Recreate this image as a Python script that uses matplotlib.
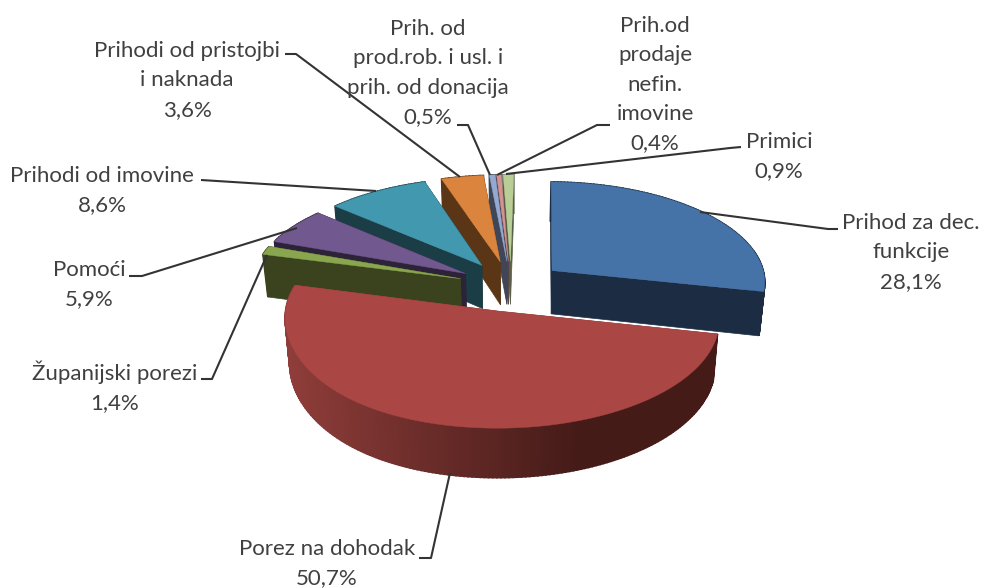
import numpy as np
import matplotlib
matplotlib.use("Agg")
import matplotlib.pyplot as plt
from matplotlib.colors import to_rgb

# Data
categories = ["Prihod za dec. funkcije", "Porez na dohodak", "Županijski porezi", "Pomoći",
              "Prihodi od imovine", "Prihodi od pristojbi i naknada",
              "Prih. od prod.rob. i usl. i prih. od donacija",
              "Prih.od prodaje nefin. imovine", "Primici"]
values = [28.1, 50.7, 1.4, 5.9, 8.6, 3.6, 0.5, 0.4, 0.9]
top_colors = ["#4572A7", "#AA4643", "#89A54E", "#71588F", "#4198AF",
              "#DB843D", "#93A9CF", "#D19392", "#B9CD96"]
wall_colors = ["#1B2C43", "#8F3D3A", "#3A431E", "#2D2339", "#1A3D46",
               "#5A3617", "#3E4657", "#5A4048", "#555F45"]
red_wall_dark = "#451B18"

# label lines, baselines of the first line, and where the text is centred
label_lines = [
    ["Prihod za dec.", "funkcije", "28,1%"],
    ["Porez na dohodak", "50,7%"],
    ["Županijski porezi", "1,4%"],
    ["Pomoći", "5,9%"],
    ["Prihodi od imovine", "8,6%"],
    ["Prihodi od pristojbi", "i naknada", "3,6%"],
    ["Prih. od", "prod.rob. i usl. i", "prih. od donacija", "0,5%"],
    ["Prih.od", "prodaje", "nefin.", "imovine", "0,4%"],
    ["Primici", "0,9%"],
]
label_x = [911, 327, 115, 89, 102, 187, 428, 655, 779]
label_y = [229, 555, 380, 276, 182, 57, 35, 32, 148]
leaders = [
    [(700, 212), (828, 229), (838, 229)],
    [(450, 473), (431, 558), (419, 558)],
    [(267, 255), (212, 379), (201, 379)],
    [(297, 228), (142, 276), (129, 276)],
    [(376, 191), (217, 181), (201, 180)],
    [(460, 177), (296, 54), (285, 54)],
    [(490, 175), (468, 125), (457, 125)],
    [(497, 175), (597, 125), (610, 125)],
    [(506, 174), (730, 148), (741, 147)],
]

# Projection settings
CX, CY = 511, 286
R = 214.5
K = 0.475
P = 0.10
H = 44
EXPLODE = 0.248
START = 1.0


def project(X, Y, z=0.0):
    s = 1 + P * Y
    d = 1 - 0.02 * z
    # front left of the original pie is a bit tighter than plain perspective
    pinch = 1 - 0.035 * np.minimum(X, 0) ** 2 * np.maximum(Y + 0.5, 0)
    return CX + R * X * s * d * pinch, CY + R * K * Y * s + H * s * z


def draw_slice(ax, a0, a1, top, wall, wall_dark=None):
    mid = np.radians((a0 + a1) / 2)
    ox, oy = EXPLODE * np.sin(mid), -EXPLODE * np.cos(mid)
    th = np.radians(np.linspace(a0, a1, max(int(a1 - a0), 2) + 1))
    ax_, ay_ = ox + np.sin(th), oy - np.cos(th)

    tx, ty = project(ax_, ay_)
    bx, by = project(ax_, ay_, 1)
    apex_t = project(ox, oy)
    apex_b = project(ox, oy, 1)

    # radial walls
    for i in (0, -1):
        ax.fill([apex_t[0], tx[i], bx[i], apex_b[0]], [apex_t[1], ty[i], by[i], apex_b[1]],
                color=wall, lw=0.5, zorder=2)
    # outer wall
    x_lo, x_hi = tx.min(), tx.min() + 0.68 * (tx.max() - tx.min())
    for i in range(len(th) - 1):
        c = wall
        if wall_dark is not None:
            t = np.clip((tx[i] - x_lo) / (x_hi - x_lo), 0, 1)
            c = tuple(np.array(to_rgb(wall)) * (1 - t) + np.array(to_rgb(wall_dark)) * t)
        ax.fill([tx[i], tx[i + 1], bx[i + 1], bx[i]], [ty[i], ty[i + 1], by[i + 1], by[i]],
                color=c, lw=1.2, zorder=2)
    # top
    ax.fill(np.r_[apex_t[0], tx], np.r_[apex_t[1], ty], color=top, lw=0.3, zorder=2)


fig = plt.figure(figsize=(9.81, 5.88), dpi=100)
ax = fig.add_axes([0, 0, 1, 1])
ax.set_xlim(0, 981)
ax.set_ylim(588, 0)
ax.axis("off")

total = sum(values)
edges = START + 360 * np.r_[0, np.cumsum(values)] / total
mids = np.radians((edges[:-1] + edges[1:]) / 2)

# back to front
for i in np.argsort(np.cos(mids))[::-1]:
    draw_slice(ax, edges[i], edges[i + 1], top_colors[i], wall_colors[i],
               red_wall_dark if i == 1 else None)

for pts in leaders:
    xs, ys = zip(*pts)
    ax.plot(xs, ys, color="#333333", lw=1.5, zorder=3, solid_capstyle="butt")

PITCH = 29.3
for lines, x, y in zip(label_lines, label_x, label_y):
    for j, line in enumerate(lines):
        ax.text(x, y + j * PITCH, line, ha="center", va="baseline", family="Lato",
                fontsize=16, color="#404040", zorder=4)

fig.savefig("out.png", dpi=100)
